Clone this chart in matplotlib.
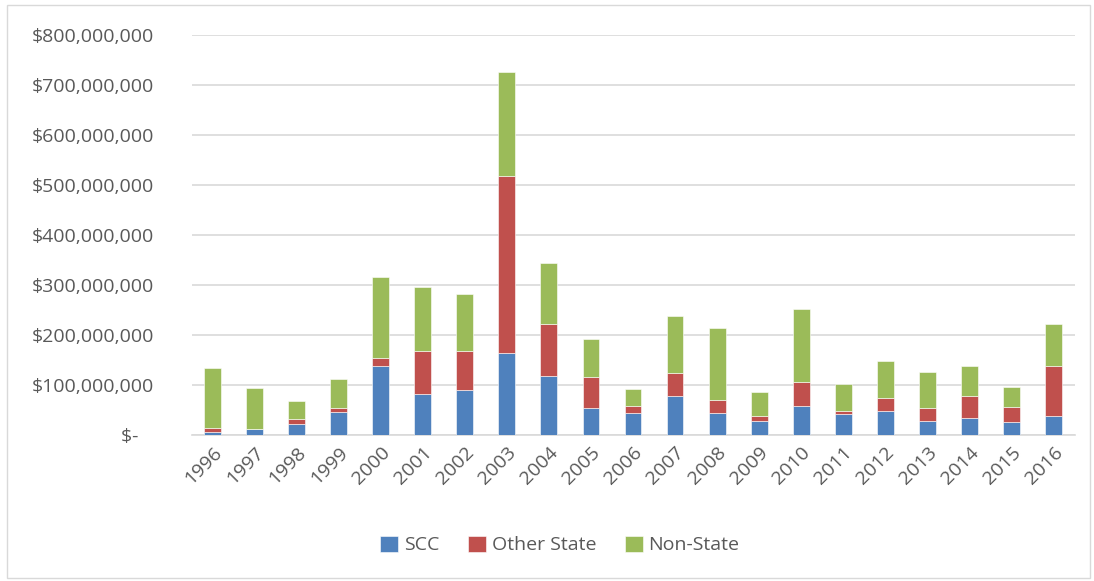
import numpy as np
import matplotlib.pyplot as plt
from matplotlib.patches import Rectangle
from matplotlib.ticker import FuncFormatter

# Funding by source, in millions of dollars
years = [str(y) for y in range(1996, 2017)]
scc = [7, 12, 23, 47, 139, 83, 91, 165, 119, 55, 44, 79, 44, 28, 59, 43, 49, 28, 35, 27, 39]
other_state = [7, 0, 9, 7, 16, 85, 77, 354, 104, 61, 14, 45, 26, 10, 48, 5, 25, 27, 43, 29, 100]
non_state = [121, 83, 37, 59, 161, 128, 115, 207, 121, 77, 35, 115, 145, 49, 145, 55, 75, 72, 61, 41, 84]

scc = np.array(scc) * 1e6
other_state = np.array(other_state) * 1e6
non_state = np.array(non_state) * 1e6

plt.rcParams['font.family'] = ['Open Sans', 'DejaVu Sans']
text_color = '#595959'

fig = plt.figure(figsize=(10.94, 5.81), dpi=100)
ax = fig.add_axes([191.5 / 1094, 1 - 435 / 581, 883 / 1094, 400 / 581])

x = np.arange(len(years))
w = 0.4
ax.bar(x, scc, w, color='#4F81BD', label='SCC', edgecolor='white', linewidth=0.4, zorder=3)
ax.bar(x, other_state, w, bottom=scc, color='#C0504D', label='Other State',
       edgecolor='white', linewidth=0.4, zorder=3)
ax.bar(x, non_state, w, bottom=scc + other_state, color='#9BBB59', label='Non-State',
       edgecolor='white', linewidth=0.4, zorder=3)

ax.set_xlim(-0.5, len(years) - 0.5)
ax.set_ylim(0, 800e6)
ax.set_yticks(np.arange(0, 800e6 + 1, 100e6))


def money(v, pos):
    if v == 0:
        return '$-   '
    return '${:,.0f}'.format(v)


ax.yaxis.set_major_formatter(FuncFormatter(money))
ax.set_xticks(x)
ax.set_xticklabels(years, rotation=45, ha='right', rotation_mode='anchor')
ax.tick_params(axis='both', length=0, labelsize=14, colors=text_color)
ax.tick_params(axis='y', pad=27)
ax.tick_params(axis='x', pad=6)

ax.grid(axis='y', color='#d9d9d9', linewidth=1.2, zorder=0)
for s in ['top', 'right', 'left']:
    ax.spines[s].set_visible(False)
ax.spines['bottom'].set_color('#d9d9d9')
ax.spines['bottom'].set_linewidth(1.2)

fig.legend(*ax.get_legend_handles_labels(), loc='center',
           bbox_to_anchor=(560 / 1094, 1 - 545 / 581), ncol=3, frameon=False,
           fontsize=14, labelcolor=text_color, handlelength=0.9, handleheight=0.9,
           handletextpad=0.3, columnspacing=1.5)

# chart border
fig.patches.append(Rectangle((7 / 1094, 3 / 581), 1083 / 1094, 573 / 581,
                             transform=fig.transFigure, fill=False,
                             edgecolor='#d9d9d9', linewidth=1))

fig.savefig('out.png', dpi=100)
